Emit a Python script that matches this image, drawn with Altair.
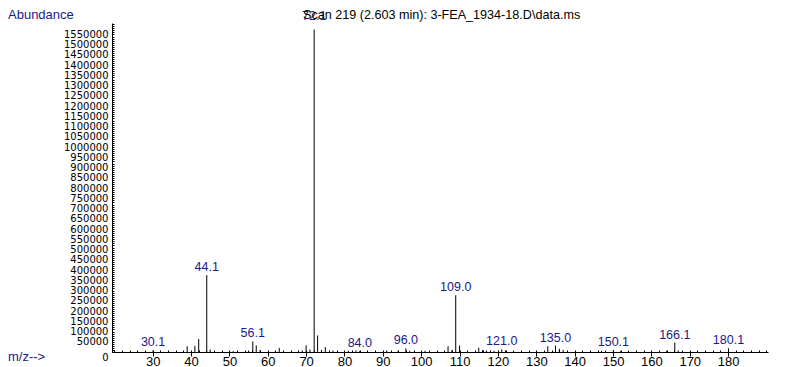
import altair as alt
import pandas as pd

# ---- data ----
mz = [30.1, 39, 41, 42, 44.1, 45, 50, 51, 55, 56.1, 57, 58, 63, 69, 70, 71, 72.1, 73, 74, 75,
      77, 81, 83, 84.0, 91, 94, 96.0, 97, 101, 107, 108, 109.0, 110, 115, 116, 117, 119, 121.0,
      122, 133, 135.0, 136, 137, 147, 150.1, 152, 164, 166.1, 167, 180.1]
abundance = [8000, 28000, 30000, 63000, 375000, 12000, 5000, 5000, 7000, 52000, 32000, 10000,
             20000, 8000, 32000, 12000, 1574000, 81000, 10000, 24000,
             7000, 6000, 8000, 6000, 7000, 7000, 18000, 6000, 6000, 28000, 10000, 277000, 32000,
             21000, 10000, 7000, 6000, 13000,
             8000, 28000, 31000, 16000, 10000, 6000, 10000, 6000, 7000, 46000, 8000, 18000]
labeled = [30.1, 44.1, 56.1, 72.1, 84.0, 96.0, 109.0, 121.0, 135.0, 150.1, 166.1, 180.1]

y_label_values = list(range(0, 1550001, 50000))
y_minor_values = list(range(0, 1606001, 10000))
x_label_values = list(range(30, 181, 10))
x_minor_values = list(range(20, 191, 2))

title_text = "Scan 219 (2.603 min): 3-FEA_1934-18.D\\data.ms"

W, H = 656, 329
FONT = "Liberation Sans"
NAVY = "#1a1a88"

df = pd.DataFrame({"mz": mz, "ab": abundance})
lab_df = df[df["mz"].isin(labeled)].copy()
lab_df["lab"] = lab_df["mz"].map(lambda v: f"{v:.1f}")

xscale = alt.Scale(domain=[19.4, 190.4], nice=False, zero=False)
yscale = alt.Scale(domain=[0, 1606000], nice=False)

bars = alt.Chart(df).mark_rule(color="black", strokeWidth=1).encode(
    x=alt.X("mz:Q", scale=xscale,
            axis=alt.Axis(values=x_label_values, tickSize=4, labelPadding=9,
                          labelBaseline="alphabetic",
                          labelFontSize=13, labelFont=FONT, labelColor="black",
                          domainColor="black", tickColor="black", grid=False, title=None,
                          labelFlush=False, labelOverlap=False)),
    y=alt.Y("ab:Q", scale=yscale,
            axis=alt.Axis(values=y_label_values, ticks=False, labelPadding=4, format="d",
                          labelFontSize=10, labelFont="DejaVu Sans", labelColor="black",
                          domainColor="black", grid=False, title=None,
                          labelOverlap=False, labelFlush=False,
                          labelBaseline={"condition": {"test": "datum.value === 0", "value": "top"},
                                         "value": "middle"})),
    y2=alt.datum(0),
)

labels = alt.Chart(lab_df).transform_calculate(
    ly="datum.ab > 1000000 ? 1600000 : datum.ab"
).mark_text(baseline="alphabetic", dy=-4, color=NAVY, fontSize=12.5, font=FONT).encode(
    x=alt.X("mz:Q", scale=xscale,
            axis=alt.Axis(orient="top", offset=-H, values=x_minor_values, tickSize=2,
                          labels=False, domain=False, grid=False, title=None,
                          tickColor="black")),
    y=alt.Y("ly:Q", scale=yscale,
            axis=alt.Axis(orient="right", offset=-W, values=y_minor_values, tickSize=2,
                          labels=False, domain=False, grid=False, title=None,
                          tickColor="black")),
    text="lab:N",
)

txt = pd.DataFrame({"t": [0]})
abund = alt.Chart(txt).mark_text(text="Abundance", align="left", baseline="top",
                                 fontSize=13, font=FONT, color=NAVY).encode(
    x=alt.value(-104), y=alt.value(-14))
mzlab = alt.Chart(txt).mark_text(text="m/z-->", align="left", baseline="middle",
                                 fontSize=13, font=FONT, color=NAVY).encode(
    x=alt.value(-104), y=alt.value(334))
title = alt.Chart(txt).mark_text(text=title_text, align="left", baseline="top",
                                 fontSize=12.6, font=FONT, color="black").encode(
    x=alt.value(191), y=alt.value(-14))

chart = alt.layer(bars, labels, abund, mzlab, title).resolve_axis(
    x="independent", y="independent"
).properties(
    width=W, height=H,
    autosize=alt.AutoSizeParams(type="none"),
    padding={"left": 104, "top": 15, "right": 8, "bottom": 15},
).configure_view(stroke=None)

chart.save("out.html", embed_options={"renderer": "svg", "actions": False})
